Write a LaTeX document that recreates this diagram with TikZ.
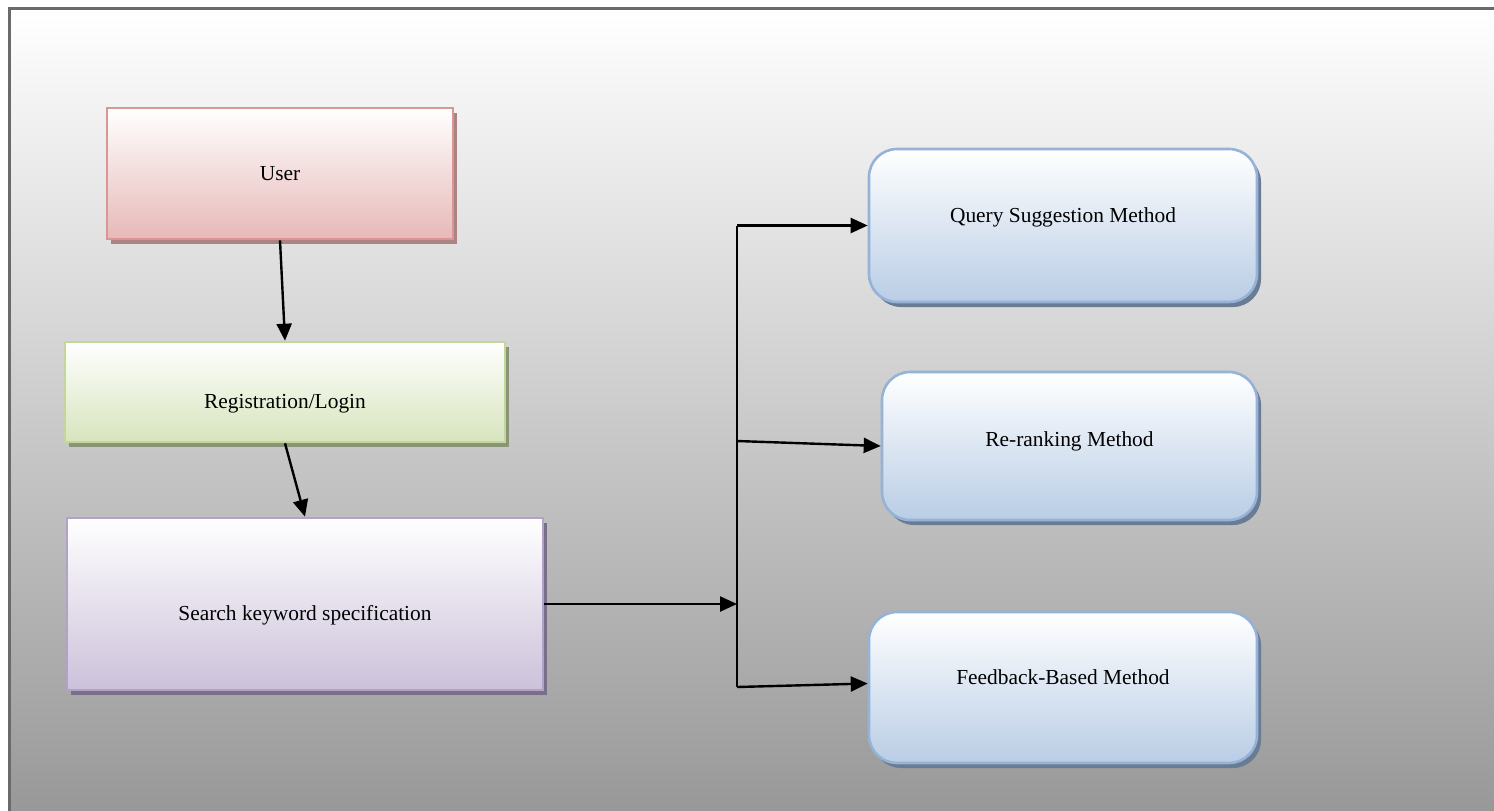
\documentclass[tikz,border=0pt]{standalone}
\usepackage{fontspec}
\setmainfont{Liberation Serif}
\usepackage{xcolor}
\definecolor{pinkline}{HTML}{D99694}
\definecolor{pinkfill}{HTML}{E6B9B8}
\definecolor{pinkshade}{HTML}{AA8382}
\definecolor{greenline}{HTML}{C3D69B}
\definecolor{greenfill}{HTML}{D7E4BD}
\definecolor{greenshade}{HTML}{8A9577}
\definecolor{lilacline}{HTML}{B3A2C7}
\definecolor{lilacfill}{HTML}{CCC1DA}
\definecolor{lilacshade}{HTML}{7A6F8A}
\definecolor{blueline}{HTML}{95B3D7}
\definecolor{bluefill}{HTML}{B9CDE5}
\definecolor{blueshade}{HTML}{6A7C93}
\definecolor{frameline}{HTML}{6A6A6A}
\usepackage{tikz}
\usetikzlibrary{arrows.meta,positioning,calc,shadows}

\begin{document}
\begin{tikzpicture}[
  x=0.5pt,
  y=-0.5pt,
  font=\fontsize{10.7}{13}\selectfont,
  box/.style={rectangle, line width=1.3pt, inner sep=0pt, top color=white},
  boxshadow/.style={general shadow={fill=#1, shadow xshift=2pt, shadow yshift=-2.5pt}},
  userbox/.style={box, draw=pinkline, bottom color=pinkfill, boxshadow=pinkshade},
  regbox/.style={box, draw=greenline, bottom color=greenfill, boxshadow=greenshade,
    text height=18.5pt},
  searchbox/.style={box, draw=lilacline, bottom color=lilacfill, boxshadow=lilacshade,
    text height=18.5pt},
  methodbox/.style={box, rounded corners=14pt, draw=blueline, bottom color=bluefill,
    boxshadow=blueshade},
  flow/.style={line width=1.2pt, -{Triangle[length=8.5pt, width=7.5pt]}},
]

\useasboundingbox (0,0) rectangle (1494,810);

% Background panel
\fill[white] (0,0) rectangle (1494,810);
\shade[top color=white, bottom color=black!41] (9,8) rectangle (1510,826);
\draw[frameline, line width=1.5pt] (9,830) -- (9,8) -- (1510,8);

% Left column
\node[userbox, minimum width=173pt, minimum height=65.5pt] (user) at (280,173.5) {User};
\node[regbox, minimum width=220pt, minimum height=50pt] (reg) at (285,392) {Registration/Login};
\node[searchbox, minimum width=238pt, minimum height=86pt] (search) at (305,604) {Search keyword specification};

% Right column
\node[methodbox, minimum width=194pt, minimum height=76.5pt, text depth=10.5pt] (query) at (1063,225.5) {Query Suggestion Method};
\node[methodbox, minimum width=187.5pt, minimum height=74pt, text depth=6.5pt] (rerank) at (1069.5,446) {Re-ranking Method};
\node[methodbox, minimum width=194pt, minimum height=75.5pt, text depth=10.5pt] (feedback) at (1063,687.5) {Feedback-Based Method};

% Junction points
\coordinate (jtop) at (737,225.5);
\coordinate (jmid) at (737,441);
\coordinate (jin) at (737,604);
\coordinate (jbot) at (737,687);

% Connectors
\draw[flow] (user.south) -- (reg.north);
\draw[flow] (reg.south) -- (search.north);
\draw[flow] (search.east) -- (jin);
\draw[line width=1.2pt] (jtop) -- (jbot);
\draw[flow] (jtop) -- (query.west);
\draw[flow] (jmid) -- (rerank.west);
\draw[flow] (jbot) -- ($(feedback.west)+(0,-4)$);

\end{tikzpicture}
\end{document}
